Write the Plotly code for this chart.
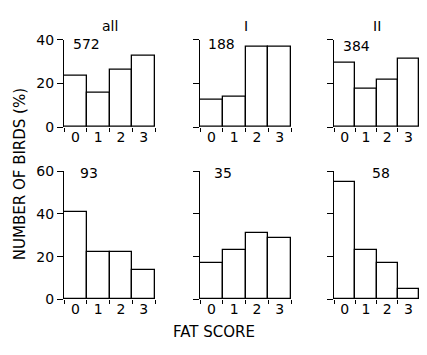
import plotly.graph_objects as go

scores = [0, 1, 2, 3]
score_labels = ["0", "1", "2", "3"]

# percentages per panel (top row: all, I, II; bottom row: n=93, 35, 58)
pct_all = [23.6, 15.9, 26.1, 32.7]
pct_I = [12.6, 13.7, 36.8, 36.8]
pct_II = [29.3, 17.6, 21.8, 31.2]
pct_93 = [41.0, 22.1, 22.1, 13.6]
pct_35 = [16.8, 22.9, 30.9, 28.8]
pct_58 = [55.0, 22.9, 16.8, 5.0]

panel_titles = ["all", "I", "II"]
panel_counts = ["572", "188", "384", "93", "35", "58"]
panel_values = [pct_all, pct_I, pct_II, pct_93, pct_35, pct_58]
row_max = [40, 60]
row_ticks = [[0, 20, 40], [0, 20, 40, 60]]

# page body keeps an 8px margin, so the figure is sized to fit inside it
OFF = 8
W, H = 427 - 2 * OFF, 355 - 2 * OFF
FONT = "DejaVu Sans"
# positions below are in window pixels
col_px = [(64, 155), (200, 291), (334, 419)]
row_px = [(33, 124.5), (170.7, 305.5)]


def px_x(v):
    return (v - OFF) / W


def px_y(v):
    return 1 - (v - OFF) / H


fig = go.Figure()
for i, vals in enumerate(panel_values):
    r, c = divmod(i, 3)
    n = i + 1
    xa = "x" if n == 1 else f"x{n}"
    ya = "y" if n == 1 else f"y{n}"
    fig.add_trace(go.Bar(
        x=scores, y=vals, width=1,
        marker=dict(color="white", line=dict(color="black", width=1.3)),
        xaxis=xa, yaxis=ya, showlegend=False, hoverinfo="skip", cliponaxis=False))
    x0, x1 = col_px[c]
    ytop, ybot = row_px[r]
    xkey = "xaxis" if n == 1 else f"xaxis{n}"
    ykey = "yaxis" if n == 1 else f"yaxis{n}"
    fig.layout[xkey] = dict(
        domain=[px_x(x0), px_x(x1)], range=[-0.5, 3.5], anchor=ya,
        tickvals=scores, ticktext=score_labels, ticks="", ticklen=0,
        showline=False,
        showgrid=False, zeroline=False, fixedrange=True,
        tickfont=dict(family=FONT, size=14, color="black"),
        minor=dict(ticks="outside", tick0=-0.5, dtick=1, ticklen=4,
                   tickcolor="black", tickwidth=1.2, showgrid=False))
    fig.layout[ykey] = dict(
        domain=[px_y(ybot), px_y(ytop)], range=[0, row_max[r]], anchor=xa,
        tickvals=row_ticks[r], ticks="outside", ticklen=6, tickwidth=1.2,
        tickcolor="black", showticklabels=(c == 0),
        showline=True, linecolor="black", linewidth=1.3,
        showgrid=False, zeroline=False, fixedrange=True,
        tickfont=dict(family=FONT, size=14, color="black"))

annotations = []
# column titles
for c, t in enumerate(panel_titles):
    x0, x1 = col_px[c]
    annotations.append(dict(text=t, x=px_x((x0 + x1) / 2), y=px_y(19),
                            xref="paper", yref="paper", showarrow=False,
                            xanchor="center", yanchor="middle",
                            font=dict(family=FONT, size=14, color="black")))
# sample sizes
count_pos = [(71, 37), (206, 37), (341, 39), (78, 173), (212, 173), (370, 173)]
for txt, (px, py) in zip(panel_counts, count_pos):
    annotations.append(dict(text=txt, x=px_x(px), y=px_y(py),
                            xref="paper", yref="paper", showarrow=False,
                            xanchor="left", yanchor="middle",
                            font=dict(family=FONT, size=14, color="black")))
annotations.append(dict(text="NUMBER OF BIRDS (%)", x=px_x(20), y=px_y(174),
                        xref="paper", yref="paper", showarrow=False, textangle=-90,
                        xanchor="center", yanchor="middle",
                        font=dict(family=FONT, size=15, color="black")))
annotations.append(dict(text="FAT SCORE", x=px_x(214), y=px_y(340),
                        xref="paper", yref="paper", showarrow=False,
                        xanchor="center", yanchor="middle",
                        font=dict(family=FONT, size=15, color="black")))

fig.update_layout(width=W, height=H, margin=dict(l=0, r=0, t=0, b=0),
                  paper_bgcolor="white", plot_bgcolor="white",
                  bargap=0, annotations=annotations)
fig.write_html("out.html", config={"displayModeBar": False})
